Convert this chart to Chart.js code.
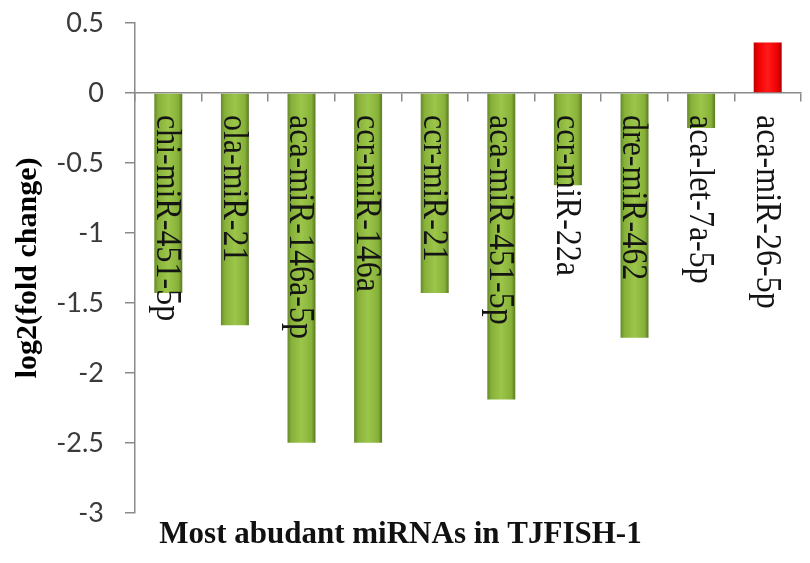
<!DOCTYPE html>
<html>
<head>
<meta charset="utf-8">
<script src="https://cdn.jsdelivr.net/npm/chart.js@4.4.1/dist/chart.umd.min.js"></script>
<style>
  html, body { margin: 0; padding: 0; background: #ffffff; }
  #wrap { width: 810px; height: 563px; position: relative; }
</style>
</head>
<body>
<div id="wrap"><canvas id="chart"></canvas></div>
<script>
// miRNA names, one bar each
const mirnas = [
  'chi-miR-451-5p',
  'ola-miR-21',
  'aca-miR-146a-5p',
  'ccr-miR-146a',
  'ccr-miR-21',
  'aca-miR-451-5p',
  'ccr-miR-22a',
  'dre-miR-462',
  'aca-let-7a-5p',
  'aca-miR-26-5p'
];

// log2 fold change per miRNA
const log2FoldChange = [-1.43, -1.66, -2.50, -2.50, -1.43, -2.19, -0.66, -1.75, -0.25, 0.36];

// value axis ticks
const yTickValues = [0.5, 0, -0.5, -1, -1.5, -2, -2.5, -3];

const yTitle = 'log2(fold change)';
const xTitle = 'Most abudant miRNAs in TJFISH-1';

const SERIF = '"Liberation Serif", "Times New Roman", "DejaVu Serif", serif';
const BAR_FRACTION = 0.42;
const AXIS_GRAY = '#8a8a8a';

// cylinder-like horizontal shading for each bar
function barFill(ctx) {
  const chart = ctx.chart;
  const v = ctx.raw;
  const up = v > 0;
  if (!chart.chartArea || ctx.type !== 'data' || !chart.scales.x) {
    return up ? '#ff0000' : '#8fba3c';
  }
  const xs = chart.scales.x;
  const cx = xs.getPixelForValue(ctx.dataIndex);
  const half = (xs.width / mirnas.length) * BAR_FRACTION / 2;
  const g = chart.ctx.createLinearGradient(cx - half, 0, cx + half, 0);
  if (up) {
    g.addColorStop(0, '#b80000');
    g.addColorStop(0.15, '#ee0000');
    g.addColorStop(0.5, '#ff1a1a');
    g.addColorStop(0.85, '#ee0000');
    g.addColorStop(1, '#a80000');
  } else {
    g.addColorStop(0, '#66892a');
    g.addColorStop(0.14, '#86b038');
    g.addColorStop(0.5, '#9cc64a');
    g.addColorStop(0.86, '#86b038');
    g.addColorStop(1, '#5a7a22');
  }
  return g;
}

// names written down the bars, starting just below the zero line
const barNames = {
  id: 'barNames',
  afterDatasetsDraw(chart) {
    const { ctx, scales: { x, y } } = chart;
    const y0 = y.getPixelForValue(0) + 22;
    ctx.save();
    ctx.fillStyle = '#141414';
    ctx.font = '32px ' + SERIF;
    ctx.textAlign = 'left';
    ctx.textBaseline = 'alphabetic';
    mirnas.forEach((name, i) => {
      const cx = x.getPixelForValue(i);
      ctx.save();
      ctx.translate(cx, y0);
      ctx.rotate(Math.PI / 2);
      ctx.scale(1, 1.12);
      ctx.fillText(name, 0, 10);
      ctx.restore();
    });
    ctx.restore();
  }
};

new Chart(document.getElementById('chart'), {
  type: 'bar',
  data: {
    labels: mirnas,
    datasets: [{
      data: log2FoldChange,
      backgroundColor: barFill,
      borderWidth: 0,
      categoryPercentage: 1,
      barPercentage: BAR_FRACTION
    }]
  },
  options: {
    responsive: true,
    maintainAspectRatio: false,
    animation: false,
    layout: { padding: { top: 23, right: 9, bottom: 0, left: 0 } },
    plugins: {
      legend: { display: false },
      tooltip: { enabled: false },
      title: {
        display: true,
        position: 'bottom',
        text: xTitle,
        color: '#111111',
        font: { family: SERIF, size: 31, weight: 'bold' },
        padding: { top: 4, bottom: 9 }
      }
    },
    scales: {
      x: {
        type: 'category',
        position: { y: 0 },
        offset: true,
        grid: {
          offset: true,
          drawOnChartArea: false,
          drawTicks: true,
          tickLength: 8,
          color: AXIS_GRAY,
          lineWidth: 1.5
        },
        border: { display: true, color: AXIS_GRAY, width: 1.5 },
        ticks: { display: false },
        afterFit(scale) {
          scale.paddingTop = 0;
          scale.paddingBottom = 0;
          scale.paddingLeft = 0;
          scale.paddingRight = 0;
        }
      },
      y: {
        min: -3,
        max: 0.5,
        afterBuildTicks(scale) {
          scale.ticks = yTickValues.slice().sort((a, b) => a - b).map(v => ({ value: v }));
        },
        afterFit(scale) {
          scale.width = 135;
          scale.paddingTop = 0;
          scale.paddingBottom = 0;
        },
        grid: {
          drawOnChartArea: false,
          drawTicks: true,
          tickLength: 10,
          color: AXIS_GRAY,
          lineWidth: 1.5
        },
        border: { display: true, color: AXIS_GRAY, width: 1.5 },
        ticks: {
          padding: 21,
          color: '#3a3a3a',
          font: { family: 'Lato, "Open Sans", sans-serif', size: 27 },
          callback: (v) => String(v)
        },
        title: {
          display: true,
          text: yTitle,
          color: '#000000',
          font: { family: SERIF, size: 30, weight: 'bold' },
          padding: { top: 10, bottom: 0 }
        }
      }
    }
  },
  plugins: [barNames]
});
</script>
</body>
</html>
